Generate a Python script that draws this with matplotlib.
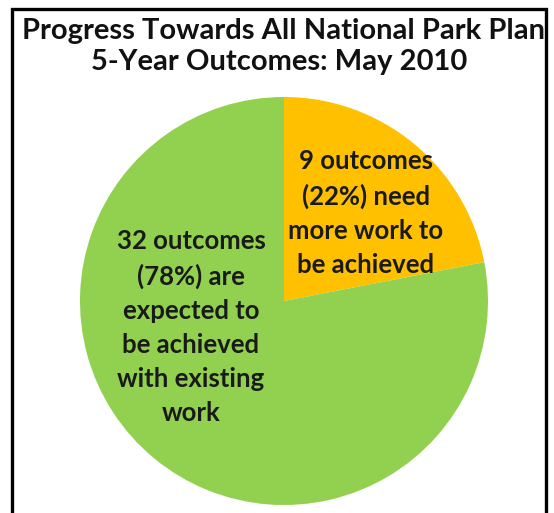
#!/usr/bin/env python3
"""Pie chart of progress towards the National Park Plan 5-year outcomes."""

import matplotlib

matplotlib.use("Agg")
import matplotlib.pyplot as plt
from matplotlib.patches import Rectangle

# data
categories = ["need more work", "expected with existing work"]
outcomes = [9, 32]
percents = [22, 78]
colors = ["#FFC000", "#92D050"]
title_lines = [
    "Progress Towards All National Park Plan",
    "5-Year Outcomes: May 2010",
]
labels = [
    f"{outcomes[0]} outcomes\n({percents[0]}%) need\nmore work to\nbe achieved",
    f"{outcomes[1]} outcomes\n({percents[1]}%) are\nexpected to\nbe achieved\nwith existing\nwork",
]

W, H = 554, 513
fig = plt.figure(figsize=(W / 100, H / 100), dpi=100)
ax = fig.add_axes([0, 0, 1, 1])

# pie in pixel-like coordinates (y measured from bottom)
cx, cy, r = 284, H - 301, 204
ax.pie(
    outcomes,
    colors=colors,
    startangle=90,
    counterclock=False,
    center=(cx, cy),
    radius=r,
    wedgeprops={"linewidth": 0},
)
ax.set_xlim(0, W)
ax.set_ylim(0, H)
ax.set_aspect("equal")
ax.axis("off")

# outer frame
ax.add_patch(
    Rectangle((12, -20), 534, H - 9 + 20, fill=False, edgecolor="black",
              linewidth=2.4, clip_on=False)
)

ax.text(283, H - 31, title_lines[0], ha="center", va="center",
        fontsize=21, fontweight="bold", family="Lato", color="#111111")
ax.text(279, H - 62, title_lines[1], ha="center", va="center",
        fontsize=21, fontweight="bold", family="Lato", color="#111111")

ax.text(366, H - 213, labels[0], ha="center", va="center", fontsize=18.5,
        fontweight="bold", family="Lato", color="#1a1a1a", linespacing=1.5)
ax.text(191, H - 327, labels[1], ha="center", va="center", fontsize=18.5,
        fontweight="bold", family="Lato", color="#1a1a1a", linespacing=1.5)

fig.savefig("out.png", dpi=100)
